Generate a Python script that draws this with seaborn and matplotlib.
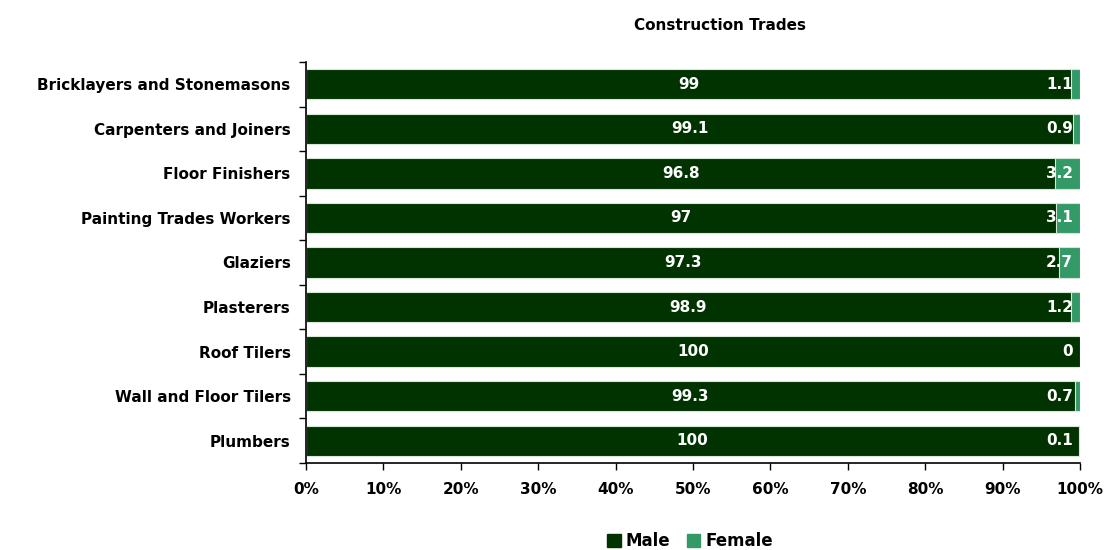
import numpy as np
import pandas as pd
import seaborn as sns
import matplotlib.pyplot as plt
from matplotlib.patches import Patch
from matplotlib.ticker import FixedLocator, PercentFormatter

trades = ['Bricklayers and Stonemasons', 'Carpenters and Joiners', 'Floor Finishers',
          'Painting Trades Workers', 'Glaziers', 'Plasterers', 'Roof Tilers',
          'Wall and Floor Tilers', 'Plumbers']
male = [99, 99.1, 96.8, 97, 97.3, 98.9, 100, 99.3, 100]
female = [1.1, 0.9, 3.2, 3.1, 2.7, 1.2, 0, 0.7, 0.1]

male_col = '#003300'
female_col = '#339966'

df = pd.DataFrame({'Trade': trades, 'Male': male, 'Female': female})
df['Total'] = df['Male'] + df['Female']
df['MalePct'] = df['Male'] / df['Total'] * 100
df['AllPct'] = 100.0

sns.set_style('white')
plt.rcParams['font.family'] = ['DejaVu Sans']
plt.rcParams['font.weight'] = 'bold'
plt.rcParams['text.color'] = 'black'
plt.rcParams['xtick.color'] = 'black'
plt.rcParams['ytick.color'] = 'black'

fs = 11

fig = plt.figure(figsize=(11.05, 5.5), dpi=100)
ax = fig.add_axes([306 / 1105, 1 - 463 / 550, 774 / 1105, 401 / 550])

# female first as full-length bar, male drawn on top
sns.barplot(data=df, x='AllPct', y='Trade', color=female_col, width=0.68,
            edgecolor='#d8e8d8', linewidth=0.8, ax=ax, saturation=1)
sns.barplot(data=df, x='MalePct', y='Trade', color=male_col, width=0.68,
            edgecolor='#d8e8d8', linewidth=0.8, ax=ax, saturation=1)

for i, row in df.iterrows():
    ax.text(row['MalePct'] / 2, i, f"{row['Male']:g}", color='white', fontsize=fs,
            fontweight='bold', ha='center', va='center')
    ax.text(99.1, i, f"{row['Female']:g}", color='white', fontsize=fs,
            fontweight='bold', ha='right', va='center')

ax.set_xlim(0, 100)
ax.set_ylim(len(trades) - 0.5, -0.5)
ax.set_xlabel('')
ax.set_ylabel('')
ax.xaxis.set_major_locator(FixedLocator(np.arange(0, 101, 10)))
ax.xaxis.set_major_formatter(PercentFormatter(decimals=0))
ax.yaxis.set_minor_locator(FixedLocator(np.arange(-0.5, len(trades), 1)))
ax.tick_params(axis='y', which='major', length=0, pad=11, labelsize=fs, labelcolor='black')
ax.tick_params(axis='y', which='minor', length=5, width=1, color='black', direction='out', left=True)
ax.tick_params(axis='x', length=5, width=1, color='black', direction='out', bottom=True,
               pad=9, labelsize=fs, labelcolor='black')
for lab in ax.get_yticklabels() + ax.get_xticklabels():
    lab.set_fontweight('bold')

sns.despine(ax=ax)
ax.spines['left'].set_color('black')
ax.spines['bottom'].set_color('black')
ax.spines['left'].set_linewidth(1.2)
ax.spines['bottom'].set_linewidth(1.2)

fig.text(720 / 1105, 1 - 26 / 550, 'Construction Trades', ha='center', va='center',
         fontsize=fs, fontweight='bold', color='black')

handles = [Patch(color=male_col, label='Male'), Patch(color=female_col, label='Female')]
fig.legend(handles=handles, loc='center', bbox_to_anchor=(690 / 1105, 1 - 541 / 550),
           ncol=2, frameon=False, handlelength=0.8, handleheight=0.8, handletextpad=0.3,
           columnspacing=1.0, labelcolor='black', prop={'size': 12, 'weight': 'bold'})

fig.savefig('out.png', dpi=100)
